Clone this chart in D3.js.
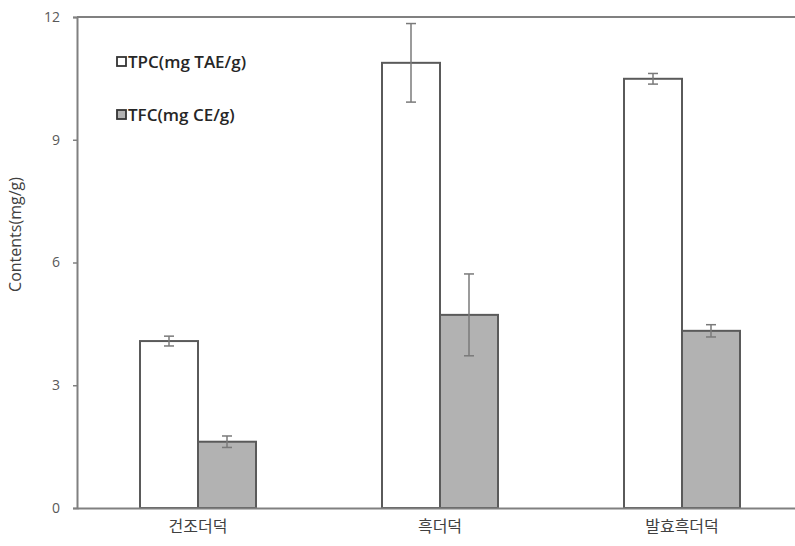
<!DOCTYPE html>
<html><head><meta charset="utf-8">
<script src="https://cdn.jsdelivr.net/npm/d3@7"></script>
<style>
html,body{margin:0;padding:0;background:#fff;}
svg text{font-family:"Open Sans","Noto Sans CJK KR","Noto Sans",sans-serif;}
</style></head>
<body><svg id="c" width="795" height="546"></svg>
<script>
const categories = ["건조더덕", "흑더덕", "발효흑더덕"];
const seriesNames = ["TPC(mg TAE/g)", "TFC(mg CE/g)"];
const tpcValues = [4.08, 10.88, 10.49];
const tpcErrors = [0.12, 0.96, 0.13];
const tfcValues = [1.62, 4.72, 4.33];
const tfcErrors = [0.14, 1.0, 0.15];
const yTicks = [0, 3, 6, 9, 12];
const yLabel = "Contents(mg/g)";

(function(){
const series = [
  {name: seriesNames[0], values: tpcValues, errors: tpcErrors, fill: "#ffffff"},
  {name: seriesNames[1], values: tfcValues, errors: tfcErrors, fill: "#b2b2b2"}
];

const svg = d3.select("#c");
const mLeft = 77, mRight = 803, mTop = 17, mBottom = 508;
const x = d3.scaleBand().domain(categories).range([mLeft, mRight]).padding(0);
const barW = 58;
const inner = d3.scaleBand().domain(seriesNames).range([-barW, barW]).padding(0);
const y = d3.scaleLinear().domain([0, 12]).range([mBottom, mTop]);

// top border
svg.append("line").attr("x1", mLeft).attr("x2", 795).attr("y1", y(12)).attr("y2", y(12))
  .attr("stroke", "#808080").attr("stroke-width", 2);

// bars
const groups = svg.append("g").selectAll("g").data(series).join("g");
groups.selectAll("rect").data(s => s.values.map((v, i) => ({v, i, s})))
  .join("rect")
  .attr("x", d => x(categories[d.i]) + x.bandwidth()/2 + inner(d.s.name))
  .attr("y", d => y(d.v))
  .attr("width", inner.bandwidth())
  .attr("height", d => y(0) - y(d.v))
  .attr("fill", d => d.s.fill)
  .attr("stroke", "#5a5a5a").attr("stroke-width", 2);

// error bars
series.forEach(s => {
  s.values.forEach((v, i) => {
    const cx = x(categories[i]) + x.bandwidth()/2 + inner(s.name) + inner.bandwidth()/2;
    const e = s.errors[i];
    const g = svg.append("g").attr("stroke", "#7a7a7a").attr("stroke-width", 1.5);
    g.append("line").attr("x1", cx).attr("x2", cx).attr("y1", y(v + e)).attr("y2", y(v - e));
    g.append("line").attr("x1", cx - 5).attr("x2", cx + 5).attr("y1", y(v + e)).attr("y2", y(v + e));
    g.append("line").attr("x1", cx - 5).attr("x2", cx + 5).attr("y1", y(v - e)).attr("y2", y(v - e));
  });
});

// y axis
const yAxis = d3.axisLeft(y).tickValues(yTicks).tickSize(4).tickPadding(13);
const ya = svg.append("g").attr("transform", `translate(${mLeft},0)`).call(yAxis);
ya.select(".domain").attr("stroke", "#808080").attr("stroke-width", 2);
ya.selectAll(".tick line").attr("stroke", "#808080").attr("stroke-width", 1.5);
ya.selectAll(".tick text").attr("fill", "#595959").attr("font-size", 14);

// x axis
const xAxis = d3.axisBottom(x).tickSize(0).tickPadding(13);
const xa = svg.append("g").attr("transform", `translate(0,${mBottom})`).call(xAxis);
xa.select(".domain").attr("stroke", "#808080").attr("stroke-width", 2);
xa.selectAll(".tick text").attr("fill", "#404040").attr("font-size", 16)
  .attr("font-family", "'Noto Sans CJK KR',sans-serif");

// y label
svg.append("text").attr("transform", `translate(21,${(mTop+mBottom)/2 - 28}) rotate(-90)`)
  .attr("text-anchor", "middle").attr("font-size", 16).attr("fill", "#404040").text(yLabel);

// legend
const legY = [62, 115];
series.forEach((s, i) => {
  svg.append("rect").attr("x", 117).attr("y", legY[i] - 5).attr("width", 9).attr("height", 9)
    .attr("fill", s.fill).attr("stroke", "#333", ).attr("stroke-width", 1.8);
  svg.append("text").attr("x", 128).attr("y", legY[i] + 6).attr("font-size", 17)
    .attr("font-weight", 600).attr("fill", "#262626").text(s.name);
});
})();
</script></body></html>
